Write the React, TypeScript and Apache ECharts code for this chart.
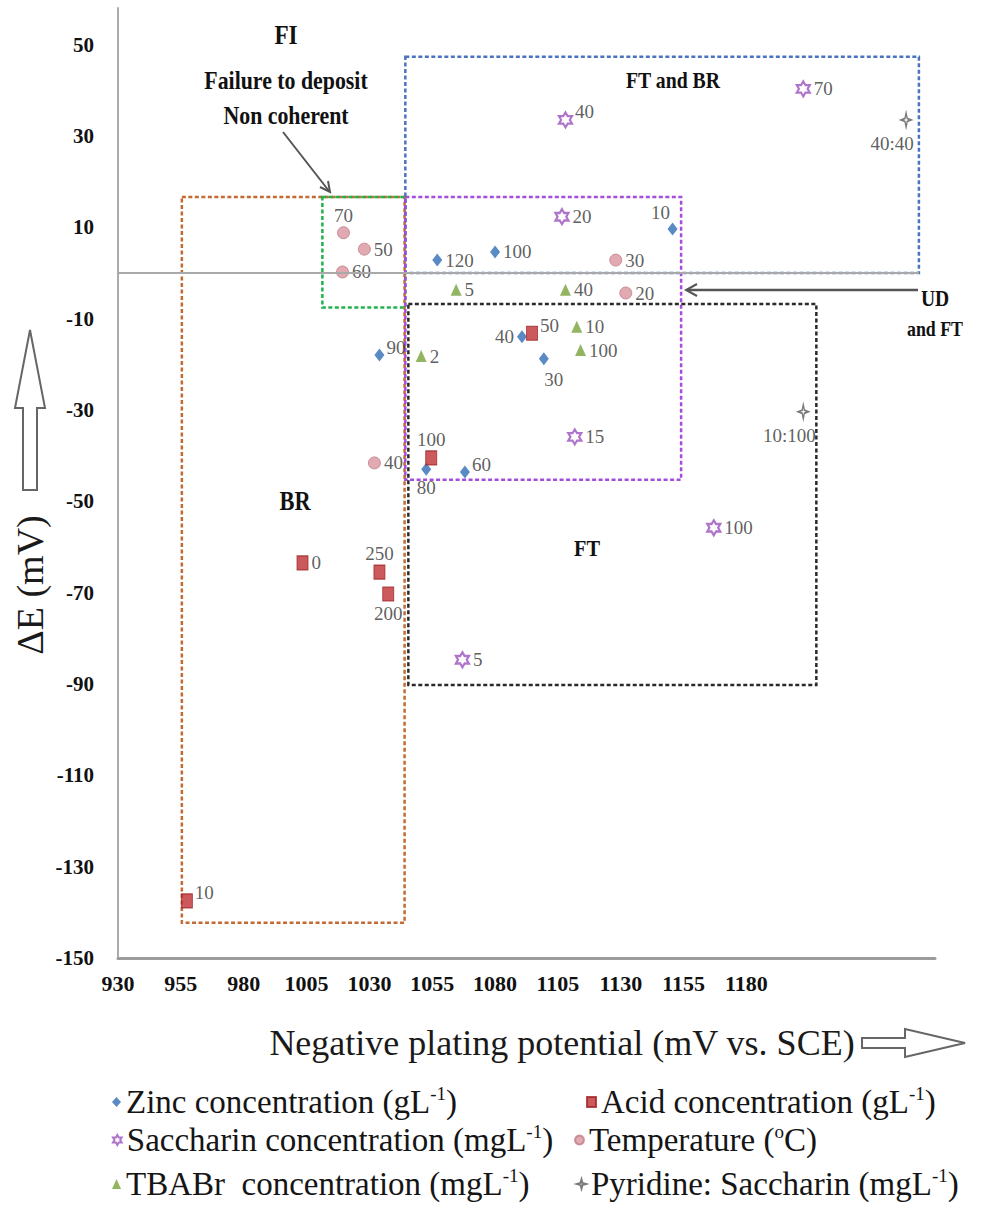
import React, { useEffect, useRef } from 'react';
import * as echarts from 'echarts';

// ---------- data ----------
const zincX = [1057, 1080, 1150.6, 1034, 1090.7, 1099.4, 1052.6, 1068];
const zincY = [2.8, 4.6, 9.6, -18, -14, -18.8, -43, -43.6];
const zincLabels = ['120', '100', '10', '90', '40', '30', '80', '60'];
const zincLabelPos = ['right', 'right', 'topLeft', 'rightUp', 'left', 'bottomRight', 'bottom', 'rightUp'];

const acidX = [1094.7, 1054.6, 1003.4, 1034, 1037.5, 957.4];
const acidY = [-13.2, -40.5, -63.5, -65.5, -70.3, -137.5];
const acidLabels = ['50', '100', '0', '250', '200', '10'];
const acidLabelPos = ['rightUp', 'top', 'right', 'top', 'bottom', 'rightUp'];

const sacchX = [1108, 1106.6, 1111.7, 1067, 1202.6, 1167];
const sacchY = [33.5, 12.3, -35.9, -84.7, 40.3, -55.8];
const sacchLabels = ['40', '20', '15', '5', '70', '100'];
const sacchLabelPos = ['rightUp', 'right', 'right', 'right', 'right', 'right'];

const tempX = [1019.7, 1028, 1019.3, 1128, 1132, 1032];
const tempY = [8.8, 5.2, 0.2, 2.8, -4.4, -41.6];
const tempLabels = ['70', '50', '60', '30', '20', '40'];
const tempLabelPos = ['top', 'right', 'right', 'right', 'right', 'right'];

const tbabrX = [1064.5, 1108, 1112.5, 1114, 1050.6];
const tbabrY = [-3.7, -3.7, -11.8, -16.9, -18.2];
const tbabrLabels = ['5', '40', '10', '100', '2'];
const tbabrLabelPos = ['right', 'right', 'right', 'right', 'right'];

const pyrX = [1243.5, 1202.6];
const pyrY = [33.5, -30.4];
const pyrLabels = ['40:40', '10:100'];
const pyrLabelPos = ['bottomLeft', 'bottomLeft'];

// region boxes (data coordinates)
const regionNames = ['BR', 'FI', 'FT and BR', 'UD and FT', 'FT'];
const regionX0 = [955.4, 1011.3, 1044.3, 1044.3, 1045.5];
const regionX1 = [1044, 1044.3, 1248.6, 1154, 1207.8];
const regionY0 = [-142.3, -7.6, 0, -45.3, -90.2];
const regionY1 = [16.6, 16.6, 47.3, 16.6, -6.8];
const regionColors = ['#c46a33', '#22b24c', '#4a74c0', '#a44ddb', '#2a2a2a'];

const X_MIN = 930;
const X_MAX = 1255;
const X_STEP = 25;
const X_LAST_LABEL = 1180;
const Y_MIN = -150;
const Y_MAX = 58;
const Y_STEP = 20;
const Y_LAST_LABEL = 50;

const N_ZINC = 'Zinc concentration (gL-1)';
const N_ACID = 'Acid concentration (gL-1)';
const N_SACC = 'Saccharin concentration (mgL-1)';
const N_TEMP = 'Temperature (oC)';
const N_TBAB = 'TBABr  concentration (mgL-1)';
const N_PYR = 'Pyridine: Saccharin (mgL-1)';

const LEGEND_RICH: Record<string, string> = {
  [N_ZINC]: 'Zinc concentration (gL{sup|-1})',
  [N_ACID]: 'Acid concentration (gL{sup|-1})',
  [N_SACC]: 'Saccharin concentration (mgL{sup|-1})',
  [N_TEMP]: 'Temperature ({sup|o}C)',
  [N_TBAB]: 'TBABr  concentration (mgL{sup|-1})',
  [N_PYR]: 'Pyridine: Saccharin (mgL{sup|-1})',
};

const SERIF = '"Liberation Serif", "Times New Roman", serif';
const STAR6 = 'path://M10,0L12.89,5L18.66,5L15.77,10L18.66,15L12.89,15L10,20L7.11,15L1.34,15L4.23,10L1.34,5L7.11,5Z';
const STAR4 = 'path://M5,0L6.1,3.9L10,5L6.1,6.1L5,10L3.9,6.1L0,5L3.9,3.9Z';

function placement(p: string): any {
  switch (p) {
    case 'left': return { position: 'left', distance: 3 };
    case 'top': return { position: 'top', distance: 1 };
    case 'bottom': return { position: 'bottom', distance: 2 };
    case 'rightUp': return { position: 'right', distance: 2, offset: [0, -8] };
    case 'topLeft': return { position: 'top', distance: 1, offset: [-12, 0] };
    case 'bottomRight': return { position: 'bottom', distance: 5, offset: [10, 0] };
    case 'bottomLeft': return { position: 'bottom', distance: 6, offset: [-14, 0] };
    default: return { position: 'right', distance: 3 };
  }
}

function makeData(xs: number[], ys: number[], labels: string[], pos: string[]) {
  return xs.map((x, i) => ({ value: [x, ys[i]], name: labels[i], label: placement(pos[i]) }));
}

const labelBase = {
  show: true,
  formatter: (p: any) => p.name,
  fontFamily: SERIF,
  fontSize: 19,
  color: '#353535',
};

export default function App() {
  const ref = useRef<HTMLDivElement>(null);

  useEffect(() => {
    if (!ref.current) return;
    const chart = echarts.init(ref.current, undefined, { renderer: 'svg' });

    const legendPlaces = [
      { name: N_ZINC, left: 112, top: 1084 },
      { name: N_ACID, left: 586, top: 1084 },
      { name: N_SACC, left: 112, top: 1122 },
      { name: N_TEMP, left: 574, top: 1122 },
      { name: N_TBAB, left: 112, top: 1166 },
      { name: N_PYR, left: 576, top: 1166 },
    ];

    const boldText = (text: string, x: number, y: number, size: number, sx = 0.86) => ({
      type: 'text',
      x,
      y,
      scaleX: sx,
      style: {
        text,
        font: `bold ${size}px ${SERIF}`,
        fill: '#111',
        align: 'center',
        verticalAlign: 'middle',
      },
      silent: true,
    });

    const option: any = {
      animation: false,
      backgroundColor: '#ffffff',
      grid: { left: 118, right: 55, top: 8, bottom: 249, containLabel: false },
      xAxis: {
        type: 'value',
        min: X_MIN,
        max: X_MAX,
        interval: X_STEP,
        axisLine: { show: true, onZero: false, lineStyle: { color: '#9c9c9c', width: 3 } },
        axisTick: { show: false },
        splitLine: { show: false },
        axisLabel: {
          formatter: (v: number) => (v <= X_LAST_LABEL ? String(v) : ''),
          fontFamily: SERIF,
          fontWeight: 'bold',
          fontSize: 22,
          color: '#111',
          margin: 14,
        },
      },
      yAxis: {
        type: 'value',
        min: Y_MIN,
        max: Y_MAX,
        interval: Y_STEP,
        axisLine: { show: true, onZero: false, lineStyle: { color: '#ababab', width: 2 } },
        axisTick: { show: false },
        splitLine: { show: false },
        axisLabel: {
          formatter: (v: number) => (v <= Y_LAST_LABEL ? String(v) : ''),
          fontFamily: SERIF,
          fontWeight: 'bold',
          fontSize: 21,
          color: '#111',
          margin: 24,
        },
      },
      legend: legendPlaces.map((l) => ({
        data: [l.name],
        left: l.left,
        top: l.top,
        padding: 0,
        itemWidth: 9,
        itemHeight: 10,
        itemGap: 0,
        selectedMode: false,
        formatter: (n: string) => LEGEND_RICH[n] || n,
        textStyle: {
          fontFamily: SERIF,
          fontSize: 33,
          color: '#151515',
          lineHeight: 36,
          rich: {
            sup: { fontFamily: SERIF, fontSize: 19, color: '#151515', verticalAlign: 'top', lineHeight: 16 },
          },
        },
      })),
      series: [
        {
          name: 'regions',
          type: 'scatter',
          data: [],
          silent: true,
          z: 1,
          markLine: {
            silent: true,
            symbol: 'none',
            label: { show: false },
            lineStyle: { color: '#a9a9a9', width: 2, type: 'solid' },
            data: [[{ coord: [X_MIN, 0] }, { coord: [regionX1[2], 0] }]],
          },
          markArea: {
            silent: true,
            label: { show: false },
            data: regionNames.map((n, i) => [
              {
                name: n,
                xAxis: regionX0[i],
                yAxis: regionY1[i],
                itemStyle: {
                  color: 'rgba(0,0,0,0)',
                  borderColor: regionColors[i],
                  borderWidth: 2.5,
                  borderType: [4, 2.5],
                },
              },
              { xAxis: regionX1[i], yAxis: regionY0[i] },
            ]),
          },
        },
        {
          name: N_ZINC,
          type: 'scatter',
          symbol: 'diamond',
          symbolSize: [10, 13],
          itemStyle: { color: '#2f6db5' },
          label: labelBase,
          data: makeData(zincX, zincY, zincLabels, zincLabelPos),
        },
        {
          name: N_ACID,
          type: 'scatter',
          symbol: 'rect',
          symbolSize: [11, 14],
          itemStyle: { color: '#bf2f33', borderColor: '#9c2327', borderWidth: 1 },
          label: labelBase,
          data: makeData(acidX, acidY, acidLabels, acidLabelPos),
        },
        {
          name: N_SACC,
          type: 'scatter',
          symbol: STAR6,
          symbolSize: [13, 15],
          itemStyle: { color: '#ffffff', borderColor: '#9a52bd', borderWidth: 2.2 },
          label: labelBase,
          data: makeData(sacchX, sacchY, sacchLabels, sacchLabelPos),
        },
        {
          name: N_TEMP,
          type: 'scatter',
          symbol: 'circle',
          symbolSize: 12,
          itemStyle: { color: '#d9949d', borderColor: '#c27c87', borderWidth: 1 },
          label: labelBase,
          data: makeData(tempX, tempY, tempLabels, tempLabelPos),
        },
        {
          name: N_TBAB,
          type: 'scatter',
          symbol: 'triangle',
          symbolSize: [11, 12],
          itemStyle: { color: '#78a23a' },
          label: labelBase,
          data: makeData(tbabrX, tbabrY, tbabrLabels, tbabrLabelPos),
        },
        {
          name: N_PYR,
          type: 'scatter',
          symbol: STAR4,
          symbolSize: [10, 14],
          itemStyle: { color: '#ffffff', borderColor: '#5a5a5a', borderWidth: 1.6 },
          label: labelBase,
          data: makeData(pyrX, pyrY, pyrLabels, pyrLabelPos),
        },
      ],
      graphic: [
        boldText('FI', 286, 35, 27),
        boldText('Failure to deposit', 286, 80, 26, 0.84),
        boldText('Non coherent', 286, 115, 26, 0.84),
        boldText('FT and BR', 673, 80, 23),
        boldText('BR', 295, 500, 28, 0.8),
        boldText('FT', 587, 548, 24, 0.85),
        boldText('UD', 935, 298, 23, 0.85),
        boldText('and FT', 935, 329, 21, 0.85),
        // arrow to FI box
        { type: 'line', silent: true, shape: { x1: 283, y1: 132, x2: 329, y2: 191 }, style: { stroke: '#555', lineWidth: 2 } },
        { type: 'polyline', silent: true, shape: { points: [[320, 187], [330, 192], [328, 181]] }, style: { stroke: '#555', lineWidth: 2, fill: null } },
        // arrow to UD region
        { type: 'line', silent: true, shape: { x1: 918, y1: 290, x2: 687, y2: 290 }, style: { stroke: '#555', lineWidth: 2.5 } },
        { type: 'polyline', silent: true, shape: { points: [[697, 284], [686, 290], [697, 296]] }, style: { stroke: '#555', lineWidth: 2, fill: null } },
        // axis titles
        {
          type: 'text', silent: true, x: 562, y: 1043,
          style: { text: 'Negative plating potential (mV vs. SCE)', font: `36px ${SERIF}`, fill: '#1a1a1a', align: 'center', verticalAlign: 'middle' },
        },
        {
          type: 'text', silent: true, x: 30, y: 585, rotation: Math.PI / 2,
          style: { text: 'ΔE (mV)', font: `38px ${SERIF}`, fill: '#1a1a1a', align: 'center', verticalAlign: 'middle' },
        },
        // hollow block arrows
        {
          type: 'polygon', silent: true,
          shape: { points: [[30, 330], [45, 408], [37, 408], [37, 490], [23, 490], [23, 408], [15, 408]] },
          style: { fill: '#ffffff', stroke: '#666', lineWidth: 2 },
        },
        {
          type: 'polygon', silent: true,
          shape: { points: [[965, 1043], [905, 1029], [905, 1038], [862, 1038], [862, 1048], [905, 1048], [905, 1057]] },
          style: { fill: '#ffffff', stroke: '#666', lineWidth: 2 },
        },
      ],
    };

    chart.setOption(option);
    return () => chart.dispose();
  }, []);

  return (
    <div
      ref={ref}
      style={{ position: 'absolute', left: 0, top: 0, width: '990px', height: '1207px', background: '#fff' }}
    />
  );
}
